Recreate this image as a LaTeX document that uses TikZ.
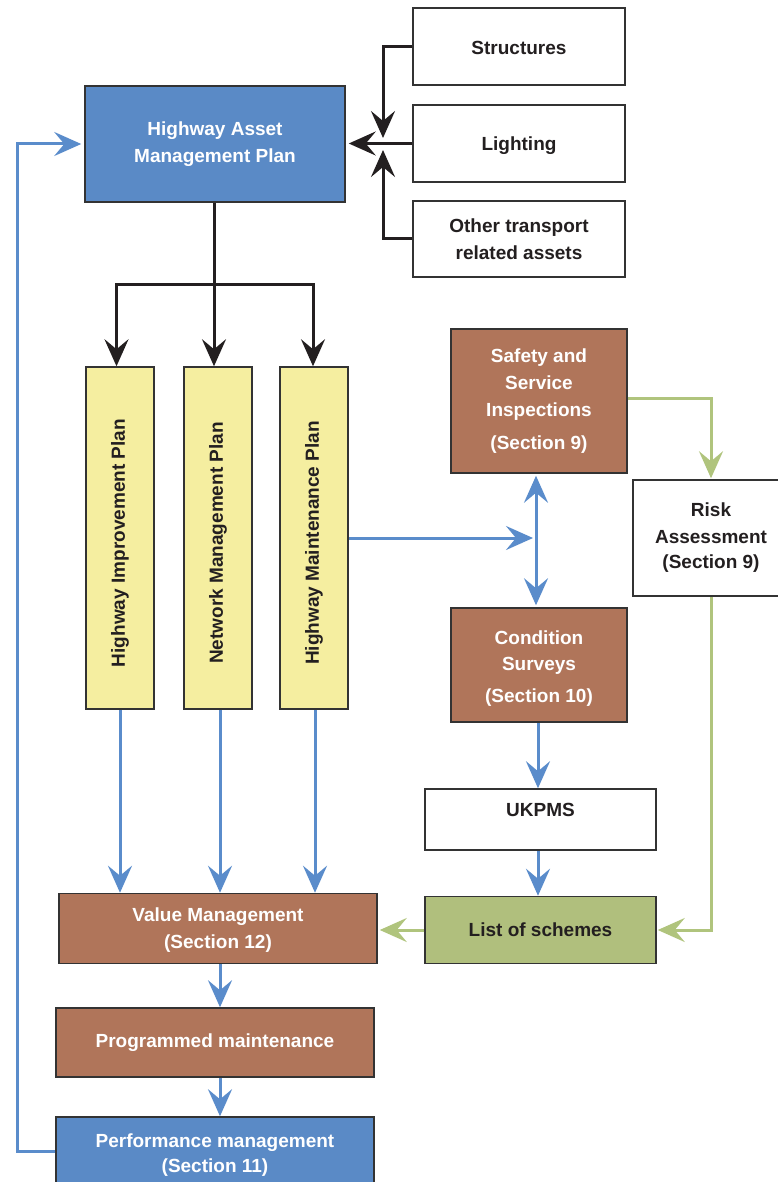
\documentclass[tikz,border=0pt]{standalone}
\usepackage{fontspec}
\setmainfont{Liberation Sans}
\usepackage{graphicx}
\usetikzlibrary{arrows.meta,calc}
\definecolor{bordc}{HTML}{333333}
\definecolor{txtc}{HTML}{231F20}
\definecolor{bluefill}{HTML}{5A8AC6}
\definecolor{brownfill}{HTML}{B0755A}
\definecolor{yelfill}{HTML}{F5EEA0}
\definecolor{grnfill}{HTML}{B0BF7D}
\definecolor{grnline}{HTML}{B0C47D}
\definecolor{bluline}{HTML}{5A8CCB}
\tikzset{
  box/.style={draw=bordc, line width=1.5pt, inner sep=0pt, align=center,
    font=\bfseries\fontsize{19}{27}\selectfont},
  wbox/.style={box, fill=white, text=txtc},
  bbox/.style={box, fill=bluefill, text=white},
  rbox/.style={box, fill=brownfill, text=white},
  ybox/.style={box, fill=yelfill, text=txtc},
  gbox/.style={box, fill=grnfill, text=txtc},
  tip/.style={-{Stealth[length=27pt,width=24pt,inset=10pt]}},
  dtip/.style={{Stealth[length=27pt,width=24pt,inset=10pt]}-{Stealth[length=27pt,width=24pt,inset=10pt]}},
  blk/.style={draw=txtc, line width=3pt},
  blu/.style={draw=bluline, line width=3pt},
  grn/.style={draw=grnline, line width=3pt},
}
\begin{document}
\begin{tikzpicture}[x=1pt,y=-1pt]
\useasboundingbox (0,0) rectangle (778,1182);
% nodes
\node[wbox, minimum width=212, minimum height=77] (str) at (519,46.5) {\rule{0pt}{17pt}Structures};
\node[wbox, minimum width=212, minimum height=77] (lig) at (519,143.5) {\rule{0pt}{18pt}Lighting};
\node[wbox, minimum width=212, minimum height=76] (oth) at (519,239) {Other transport\\related assets};
\node[bbox, minimum width=260, minimum height=116] (hamp) at (215,144) {Highway Asset\\Management Plan};
\node[ybox, minimum width=68, minimum height=342] (hip) at (120,538) {\rotatebox{90}{Highway Improvement Plan\hspace{10pt}}};
\node[ybox, minimum width=68, minimum height=342] (nmp) at (218,538) {\rotatebox{90}{Network Management Plan\hspace{10pt}}};
\node[ybox, minimum width=68, minimum height=342] (hmp) at (314,538) {\rotatebox{90}{Highway Maintenance Plan\hspace{10pt}}};
\node[rbox, minimum width=176, minimum height=144] (saf) at (539,401) {Safety and\\Service\\Inspections\\[6pt](Section 9)};
\node[wbox, minimum width=156, minimum height=116] (risk) at (711,538) {Risk\\Assessment\\[-2pt](Section 9)};
\node[rbox, minimum width=176, minimum height=114] (cond) at (539,665) {\rule{0pt}{20pt}Condition\\[-1pt]Surveys\\[5pt](Section 10)};
\node[wbox, minimum width=231, minimum height=61] (ukpms) at (540.5,819.5) {\raisebox{3pt}[0pt][0pt]{UKPMS}};
\node[gbox, minimum width=231, minimum height=67] (list) at (540.5,930) {List of schemes};
\node[rbox, minimum width=318, minimum height=70] (value) at (218,928.5) {\rule{0pt}{17pt}Value Management\\(Section 12)};
\node[rbox, minimum width=318, minimum height=69] (prog) at (215,1042.5) {Programmed maintenance};
\node[bbox, minimum width=318, minimum height=72] (perf) at (215,1153) {\rule{0pt}{17pt}Performance management\\[-2pt](Section 11)};
% black connectors
\coordinate (split) at (214,284);
\coordinate (jn) at (383,144);
\draw[blk] (hamp.south -| split) -- (split);
\draw[blk,tip] (split) -| ([xshift=-3.5pt]hip.north);
\draw[blk,tip] (split) -- (split |- nmp.north);
\draw[blk,tip] (split) -| ([xshift=-1pt]hmp.north);
\draw[blk,tip] (str.west) -| ([yshift=6pt]jn);
\draw[blk,tip] (oth.west) -| ([yshift=-6pt]jn);
\draw[blk,tip,shorten >=3pt] (lig.west) -- (lig.west -| hamp.east);
% blue connectors
\draw[blu,tip,shorten >=3pt] (perf.west |- 0,1151) -- (17,1151) |- (hamp.west);
\coordinate (jb) at (536,538);
\draw[blu,tip,shorten >=3pt] (hmp.east) -- (jb);
\draw[blu,dtip,shorten <=2pt,shorten >=2pt] (saf.south -| jb) -- (cond.north -| jb);
\draw[blu,tip] (hip.south) -- (hip.south |- value.north);
\draw[blu,tip] ([xshift=2pt]nmp.south) -- ([xshift=2pt]nmp.south |- value.north);
\draw[blu,tip] ([xshift=1pt]hmp.south) -- ([xshift=1pt]hmp.south |- value.north);
\draw[blu,tip] ([xshift=2pt]value.south) -- ([xshift=2pt]value.south |- prog.north);
\draw[blu,tip] ([xshift=5pt]prog.south) -- ([xshift=5pt]prog.south |- perf.north);
\draw[blu,tip] ([xshift=-1pt]cond.south) -- ([xshift=-1pt]cond.south |- ukpms.north);
\draw[blu,tip] ([xshift=-2.5pt]ukpms.south) -- ([xshift=-2.5pt]ukpms.south |- list.north);
% green connectors
\draw[grn,tip,shorten >=1pt] ([yshift=3pt]saf.east) -| (risk.north);
\draw[grn,tip,shorten >=1pt] (risk.south) |- (list.east);
\draw[grn,tip,shorten >=2pt] (list.west) -- (list.west -| value.east);
\end{tikzpicture}
\end{document}
